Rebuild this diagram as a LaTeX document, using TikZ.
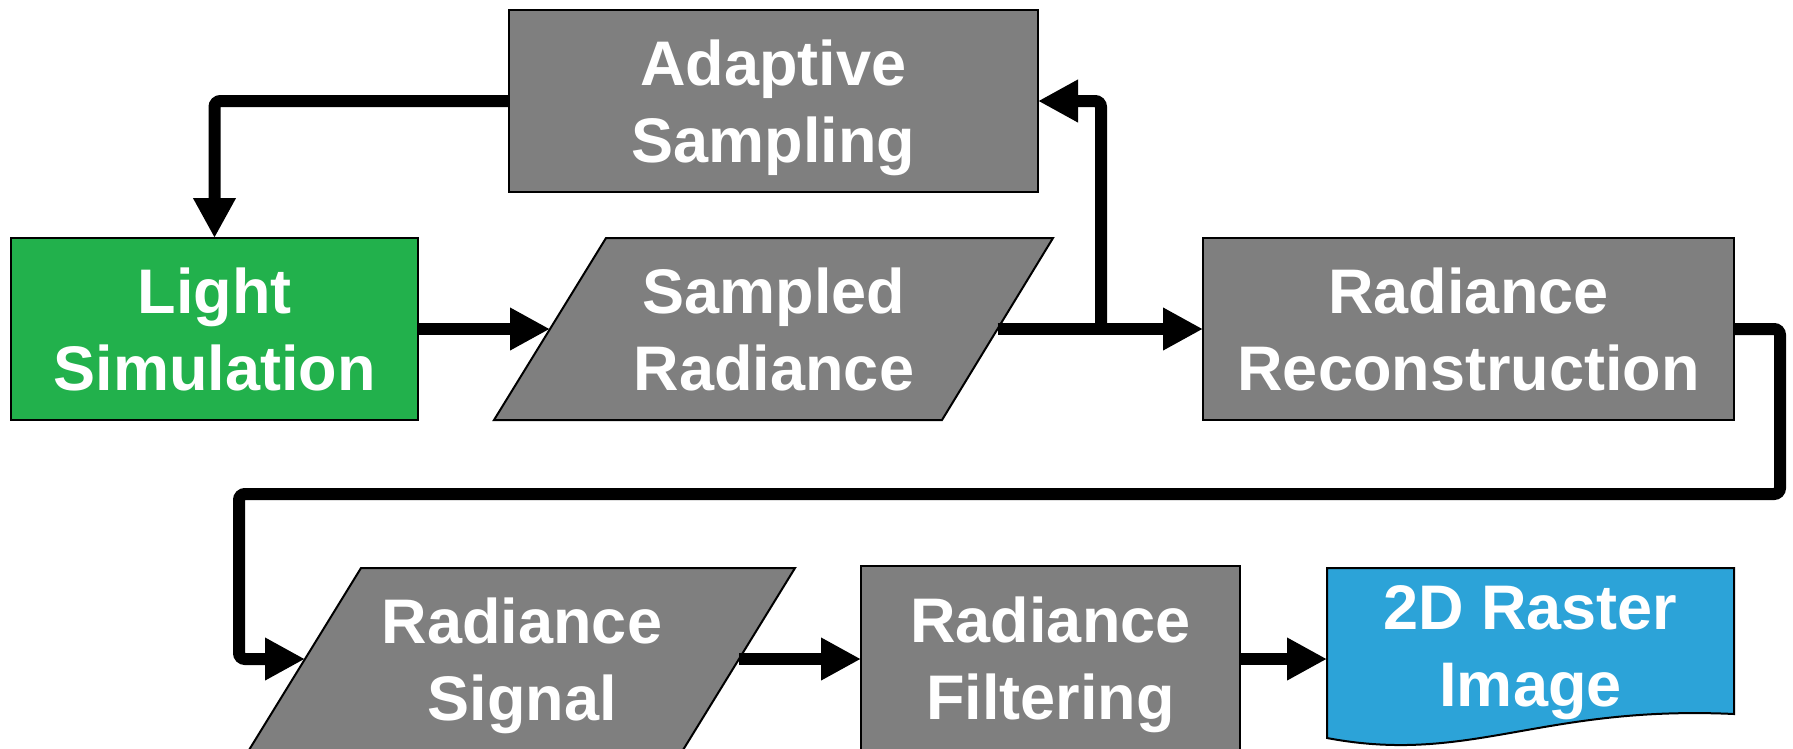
\documentclass[tikz,border=0pt]{standalone}
\usepackage{fontspec}
\setmainfont{Liberation Sans}
\usetikzlibrary{arrows.meta}
\definecolor{boxgray}{RGB}{127,127,127}
\definecolor{boxgreen}{RGB}{34,177,76}
\definecolor{boxblue}{RGB}{44,163,216}
\newcommand{\twol}[2]{\rule{0pt}{0.93em}#1\\#2\rule[-0.21em]{0pt}{0.21em}}
\tikzset{
  lbl/.style={text=white, font=\fontsize{63}{77}\selectfont\bfseries, align=center, inner sep=0pt},
  procbox/.style={lbl, draw=black, line width=2pt, fill=boxgray, rectangle, inner sep=0pt, outer sep=0pt},
  shapeline/.style={draw=black, line width=2pt, line join=miter},
  conn/.style={line width=12pt, draw=black, rounded corners=6pt, -{Triangle[length=40pt,width=40pt]}},
}
\begin{document}
\begin{tikzpicture}[x=1pt,y=-1pt]
\useasboundingbox (0,0) rectangle (1793,748);
% top row
\node[procbox, minimum width=529pt, minimum height=182pt] (as) at (773.5,101) {\twol{Adaptive}{Sampling}};
\node[procbox, fill=boxgreen, minimum width=407pt, minimum height=182pt] (ls) at (214.5,329) {\twol{Light}{Simulation}};
\node[procbox, minimum width=531pt, minimum height=182pt] (rr) at (1468.5,329) {\twol{Radiance}{Reconstruction}};
% sampled radiance parallelogram
\path[shapeline, fill=boxgray] (606,238) -- (1053,238) -- (942,420) -- (494,420) -- cycle;
\node[lbl] (sr) at (774,329) {\twol{Sampled}{Radiance}};
\coordinate (sr-w) at (550,329);
\coordinate (sr-e) at (997.5,329);
% bottom row
\path[shapeline, fill=boxgray] (361,568) -- (795,568) -- (683,750) -- (249,750) -- cycle;
\node[lbl] (sg) at (522,659) {\twol{Radiance}{Signal}};
\coordinate (sg-w) at (305,659);
\coordinate (sg-e) at (739,659);
\node[procbox, minimum width=379pt, minimum height=184pt] (rf) at (1050.5,658) {\twol{Radiance}{Filtering}};
% raster document
\path[shapeline, fill=boxblue] (1327,568) -- (1734,568) -- (1734,714)
  .. controls (1540,705) and (1470,765) .. (1327,738) -- cycle;
\node[lbl] (ri) at (1530.5,645) {\twol{2D Raster}{Image}};
\coordinate (ri-w) at (1327,659);
% connectors
\coordinate (br) at (1101,329);
\coordinate (k1) at (1780,494);
\coordinate (k2) at (239,494);
\draw[conn] (as.west) -| (ls.north);
\draw[conn] (ls.east) -- (sr-w);
\draw[conn] (sr-e) -- (rr.west);
\draw[conn] (br) |- (as.east);
\draw[conn] (rr.east) -| (k1) -- (k2) |- (sg-w);
\draw[conn] (sg-e) -- (sg-e -| rf.west);
\draw[conn] (rf.east |- ri-w) -- (ri-w);
\end{tikzpicture}
\end{document}
